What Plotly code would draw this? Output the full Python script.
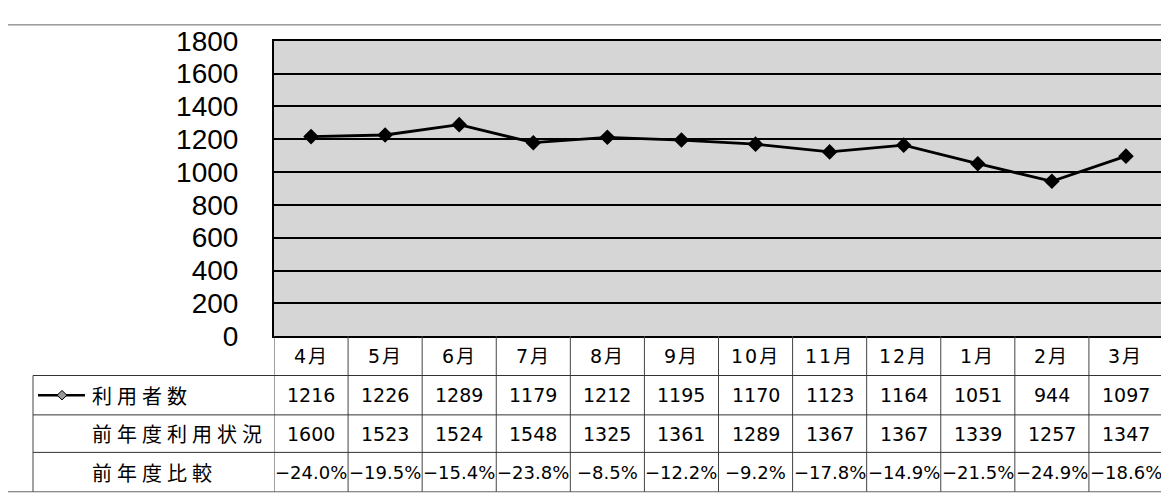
import plotly.graph_objects as go

# ---- data ----
months = ["4月", "5月", "6月", "7月", "8月", "9月", "10月", "11月", "12月", "1月", "2月", "3月"]
users = [1216, 1226, 1289, 1179, 1212, 1195, 1170, 1123, 1164, 1051, 944, 1097]
prev_year = [1600, 1523, 1524, 1548, 1325, 1361, 1289, 1367, 1367, 1339, 1257, 1347]
ratio_pct = [-24.0, -19.5, -15.4, -23.8, -8.5, -12.2, -9.2, -17.8, -14.9, -21.5, -24.9, -18.6]
row_labels = ["利用者数", "前年度利用状況", "前年度比較"]
y_ticks = [0, 200, 400, 600, 800, 1000, 1200, 1400, 1600, 1800]

# the page body has an 8px margin: lay the figure out in screen coordinates
OFF = 8
W, H = 1169 - OFF, 504 - OFF
def px(x):
    return (x - OFF) / W
def py(y):
    return 1 - (y - OFF) / H

FONT = "DejaVu Sans, Noto Sans CJK JP, sans-serif"
TICKFONT = "Liberation Sans, Arial, sans-serif"
JP = "Noto Sans CJK JP, sans-serif"

fig = go.Figure()
fig.add_trace(go.Scatter(
    x=months, y=users, mode="lines+markers",
    line=dict(color="black", width=2.8),
    marker=dict(symbol="diamond", size=12, color="black"),
    showlegend=False, cliponaxis=False,
))

plot_left, plot_right, plot_top, plot_bottom = 274, 1163, 27, 342
row_edges = [342, 384, 426, 466, 508]

shapes = []
# outer border
shapes.append(dict(type="rect", xref="paper", yref="paper", x0=px(7), x1=px(1167), y0=py(10), y1=py(508),
                   line=dict(color="#666", width=1)))
# table vertical lines (category boundaries)
for i in range(len(months) + 1):
    shapes.append(dict(type="line", xref="x", yref="paper", x0=i - 0.5, x1=i - 0.5,
                       y0=py(plot_bottom), y1=py(508), line=dict(color="#444", width=1)))
# label column left line
shapes.append(dict(type="line", xref="paper", yref="paper", x0=px(33), x1=px(33),
                   y0=py(row_edges[1]), y1=py(508), line=dict(color="#444", width=1)))
# horizontal row lines
for ye in row_edges[1:4]:
    shapes.append(dict(type="line", xref="paper", yref="paper", x0=px(33), x1=px(plot_right),
                       y0=py(ye), y1=py(ye), line=dict(color="#333", width=1)))
# legend key in table
ly = (row_edges[1] + row_edges[2]) / 2
shapes.append(dict(type="line", xref="paper", yref="paper", x0=px(38), x1=px(85),
                   y0=py(ly), y1=py(ly), line=dict(color="black", width=2.5)))
cx, d = 62, 5
shapes.append(dict(type="path", xref="paper", yref="paper",
                   path=f"M {px(cx - d)} {py(ly)} L {px(cx)} {py(ly - d)} L {px(cx + d)} {py(ly)} L {px(cx)} {py(ly + d)} Z",
                   fillcolor="#999", line=dict(color="black", width=1)))

annotations = []
def row_center(r):
    return (row_edges[r] + row_edges[r + 1]) / 2

def cell(m, r, text, size=19):
    return dict(x=m, y=py(row_center(r)), xref="x", yref="paper", text=text, showarrow=False,
                xanchor="center", yanchor="middle",
                font=dict(family=FONT, size=size, color="black"))

for i, m in enumerate(months):
    annotations.append(cell(m, 0, f'<span style="letter-spacing:2px">{m}</span>'))
    annotations.append(cell(m, 1, str(users[i])))
    annotations.append(cell(m, 2, str(prev_year[i])))
    annotations.append(cell(m, 3, f"{ratio_pct[i]:.1f}%".replace("-", "−"), size=18))

for r, lab in enumerate(row_labels):
    annotations.append(dict(x=px(90), y=py(row_center(r + 1)), xref="paper", yref="paper",
                            text=f'<span style="letter-spacing:5px">{lab}</span>',
                            showarrow=False, xanchor="left", yanchor="middle",
                            font=dict(family=JP, size=20, color="black")))

fig.update_layout(
    width=W, height=H,
    margin=dict(l=0, r=0, t=0, b=0),
    paper_bgcolor="white",
    plot_bgcolor="#d6d6d6",
    shapes=shapes,
    annotations=annotations,
    xaxis=dict(domain=[px(plot_left), px(plot_right)], type="category", range=[-0.5, 11.5],
               showticklabels=False, showgrid=False, zeroline=False,
               showline=True, linecolor="black", linewidth=2, mirror=True),
    yaxis=dict(domain=[py(plot_bottom), py(plot_top)], range=[0, 1800], tickvals=y_ticks,
               ticks="", ticklabelstandoff=28,
               tickfont=dict(family=TICKFONT, size=28, color="black"),
               showgrid=True, gridcolor="black", gridwidth=1.5, zeroline=False,
               showline=True, linecolor="black", linewidth=2, mirror=True),
)

fig.write_html("out.html")
